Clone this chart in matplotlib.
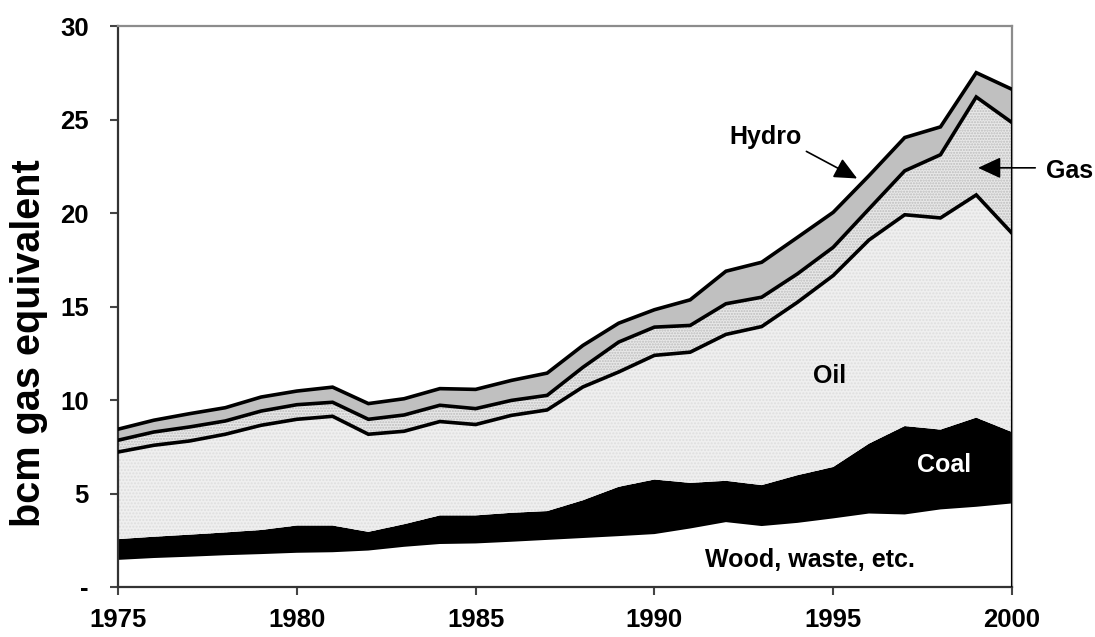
import matplotlib
matplotlib.use("Agg")
import matplotlib.pyplot as plt
import numpy as np

plt.rcParams['font.family'] = ['Liberation Sans', 'DejaVu Sans']
plt.rcParams['font.weight'] = 'bold'

years = list(range(1975, 2001))
wood = [1.45, 1.55, 1.62, 1.70, 1.76, 1.83, 1.86, 1.95, 2.15, 2.30, 2.33, 2.42, 2.52,
        2.62, 2.72, 2.83, 3.13, 3.47, 3.26, 3.43, 3.67, 3.93, 3.88, 4.15, 4.29, 4.47]
coal = [1.11, 1.14, 1.18, 1.22, 1.29, 1.46, 1.43, 1.00, 1.21, 1.53, 1.50, 1.55, 1.54,
        2.02, 2.64, 2.92, 2.44, 2.21, 2.19, 2.55, 2.75, 3.74, 4.73, 4.27, 4.77, 3.82]
oil = [4.66, 4.89, 5.01, 5.25, 5.60, 5.68, 5.84, 5.22, 4.97, 5.02, 4.86, 5.21, 5.41,
       6.06, 6.14, 6.64, 6.99, 7.83, 8.48, 9.25, 10.24, 10.89, 11.30, 11.32, 11.91, 10.63]
gas = [0.63, 0.71, 0.75, 0.71, 0.76, 0.78, 0.75, 0.80, 0.87, 0.87, 0.85, 0.80, 0.78,
       1.05, 1.60, 1.51, 1.43, 1.64, 1.57, 1.52, 1.51, 1.66, 2.35, 3.38, 5.24, 5.92]
hydro = [0.59, 0.63, 0.71, 0.71, 0.75, 0.73, 0.81, 0.84, 0.87, 0.89, 1.03, 1.07, 1.19,
         1.17, 1.01, 0.93, 1.37, 1.74, 1.87, 1.95, 1.87, 1.78, 1.78, 1.49, 1.30, 1.78]

yticks = [0, 5, 10, 15, 20, 25, 30]
ytick_labels = ['-', '5', '10', '15', '20', '25', '30']
xticks = [1975, 1980, 1985, 1990, 1995, 2000]

x = np.array(years)
c1 = np.array(wood)
c2 = c1 + np.array(coal)
c3 = c2 + np.array(oil)
c4 = c3 + np.array(gas)
c5 = c4 + np.array(hydro)

fig = plt.figure(figsize=(10.95, 6.37), dpi=100)
ax = fig.add_axes([0.1078, 0.0785, 0.8164, 0.8805])

ax.fill_between(x, 0, c1, facecolor='white', linewidth=0, zorder=1)
ax.fill_between(x, c1, c2, facecolor='black', linewidth=0, zorder=1)
ax.fill_between(x, c2, c3, facecolor='#efefef', edgecolor='#dedede', hatch='.....', linewidth=0, zorder=1)
ax.fill_between(x, c3, c4, facecolor='#e8e8e8', edgecolor='#bdbdbd', hatch='......', linewidth=0, zorder=1)
ax.fill_between(x, c4, c5, facecolor='#c0c0c0', linewidth=0, zorder=1)

for c in (c3, c4, c5):
    ax.plot(x, c, color='black', linewidth=2.6, solid_joinstyle='miter', zorder=3)
ax.vlines(x[-1], 0, c5[-1], color='black', linewidth=2.2, zorder=3)

ax.set_xlim(1975, 2000)
ax.set_ylim(0, 30)
ax.set_yticks(yticks)
ax.set_yticklabels(ytick_labels)
ax.set_xticks(xticks)
ax.tick_params(axis='both', direction='out', length=6, width=1.5, labelsize=18.5, color='#444444')
ax.tick_params(axis='x', pad=9)
ax.tick_params(axis='y', pad=15)
for lab in ax.get_xticklabels() + ax.get_yticklabels():
    lab.set_fontweight('bold')

for s in ('top', 'right'):
    ax.spines[s].set_color('#8c8c8c')
    ax.spines[s].set_linewidth(1.6)
for s in ('left', 'bottom'):
    ax.spines[s].set_color('#333333')
    ax.spines[s].set_linewidth(1.6)

ax.set_ylabel('bcm gas equivalent', fontsize=28.5, fontweight='bold')
ax.yaxis.set_label_coords(-0.078, 0.435)

fs = 18
astyle = '-|>,head_length=1.4,head_width=0.65'
ax.text(1993.1, 24.05, 'Hydro', fontsize=fs, fontweight='bold', ha='center', va='center', zorder=5)
ax.annotate('', xy=(1995.67, 21.85), xytext=(1994.25, 23.3),
            arrowprops=dict(arrowstyle=astyle, color='black', lw=1.2,
                            shrinkA=0, shrinkB=0), zorder=5)
ax.annotate('', xy=(1999.05, 22.42), xytext=(2000.65, 22.42), annotation_clip=False,
            arrowprops=dict(arrowstyle=astyle, color='black', lw=1.2,
                            shrinkA=0, shrinkB=0), zorder=5)
ax.text(2001.6, 22.25, 'Gas', fontsize=fs, fontweight='bold', ha='center', va='center', clip_on=False)
ax.text(1994.9, 11.3, 'Oil', fontsize=fs, fontweight='bold', ha='center', va='center', zorder=5)
ax.text(1998.1, 6.5, 'Coal', fontsize=fs, fontweight='bold', ha='center', va='center', color='white', zorder=5)
ax.text(1994.35, 1.45, 'Wood, waste, etc.', fontsize=fs, fontweight='bold', ha='center', va='center', zorder=5)

fig.savefig('out.png', dpi=100)
